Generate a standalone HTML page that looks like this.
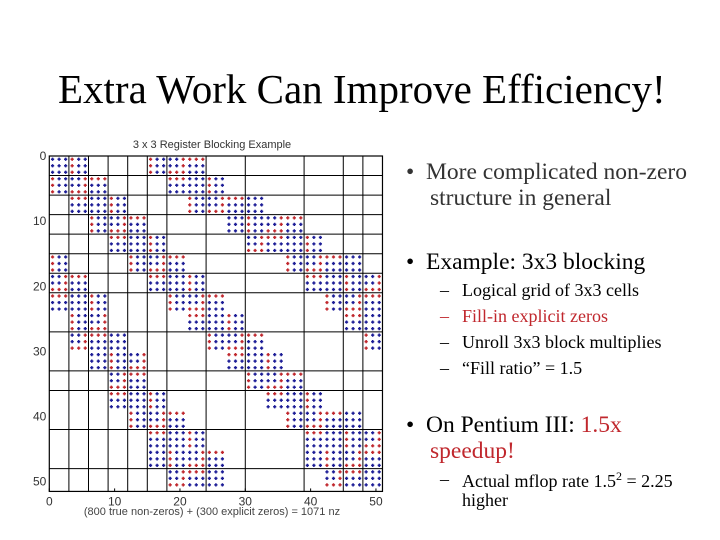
<!DOCTYPE html>
<html><head><meta charset="utf-8"><style>
body{margin:0;background:#fff;}
#wrap{position:relative;width:720px;height:540px;overflow:hidden;font-family:"Liberation Serif",serif;}
.t{position:absolute;white-space:nowrap;color:#000;}
.red{color:#c0272d;}
.d{position:absolute;left:-22px;}
</style></head><body>
<div id="wrap">
<div class="t" style="left:58px;top:65px;font-size:41px;">Extra Work Can Improve Efficiency!</div>
<svg id="chart" width="720" height="540" style="position:absolute;left:0;top:0"></svg>
<div class="t" style="left:406px;top:159px;font-size:23.5px;color:#333">•&nbsp; More complicated non-zero</div>
<div class="t" style="left:430px;top:185px;font-size:23.5px;color:#333">structure in general</div>
<div class="t" style="left:406px;top:249px;font-size:23.5px;">•&nbsp; Example: 3x3 blocking</div>
<div class="t" style="left:462px;top:280px;font-size:18px;"><span class="d">–</span>Logical grid of 3x3 cells</div>
<div class="t red" style="left:462px;top:306px;font-size:18px;"><span class="d">–</span>Fill-in explicit zeros</div>
<div class="t" style="left:462px;top:332px;font-size:18px;"><span class="d">–</span>Unroll 3x3 block multiplies</div>
<div class="t" style="left:462px;top:358px;font-size:18px;"><span class="d">–</span>“Fill ratio” = 1.5</div>
<div class="t" style="left:406px;top:412px;font-size:23.5px;">•&nbsp; On Pentium III: <span class="red">1.5x</span></div>
<div class="t red" style="left:430px;top:438px;font-size:23.5px;">speedup!</div>
<div class="t" style="left:462px;top:469px;font-size:18px;"><span class="d">–</span>Actual mflop rate 1.5<sup style="font-size:12px">2</sup> = 2.25</div>
<div class="t" style="left:462px;top:490px;font-size:18px;">higher</div>
</div>
<script>
// block rows: column-block indices of stored 3x3 blocks
const blockCols = [
 [0,1,5,6,7],[0,1,2,6,7,8],[1,2,3,7,8,9,10],[2,3,4,9,10,11,12],[3,4,5,10,11,12,13],
 [0,4,5,6,12,13,14,15],[0,1,5,6,7,13,14,15,16],[0,1,2,6,7,8,14,15,16],[1,2,7,8,9,15,16],
 [1,2,3,8,9,10,16],[2,3,4,9,10,11],[3,4,10,11,12],[3,4,5,11,12,13],[4,5,6,12,13,14,15],
 [5,6,7,13,14,15,16],[5,6,7,8,13,14,15,16],[6,7,8,14,15,16]
];
// fill masks (b = true nonzero, r = explicit zero), chosen by (row+col)%4
const masks = ["bbbbbbbbb","rbbrbbrbb","bbrbbrrrr","rrrbbbbbb"];
const colGrid = [3,6,9,12,15,18,24,30,39,45,48];
const rowGrid = [3,6,9,12,15,18,21,27,33,36,42,48];
const ticks = [0,10,20,30,40,50];
const X0=49.3, SX=6.533, Y0=156, SY=6.513, XMAX=51, YMAX=51.5;
const xs=u=>X0+u*SX, ys=v=>Y0+v*SY;
const svg=document.getElementById('chart');
const NS="http://www.w3.org/2000/svg";
function mk(tag,attrs){const e=document.createElementNS(NS,tag);for(const k in attrs)e.setAttribute(k,attrs[k]);svg.appendChild(e);return e;}
const gl=(x1,y1,x2,y2,w)=>mk('line',{x1,y1,x2,y2,stroke:'#000','stroke-width':w});
colGrid.forEach(c=>{const l=gl(xs(c),ys(0),xs(c),ys(YMAX),1);

});
rowGrid.forEach(r=>{const l=gl(xs(0),ys(r),xs(XMAX),ys(r),1);

});
const box=mk('rect',{x:xs(0),y:ys(0),width:xs(XMAX)-xs(0),height:ys(YMAX)-ys(0),fill:'none',stroke:'#000','stroke-width':1.2});


blockCols.forEach((cols,rb)=>{cols.forEach(cb=>{
 const m=masks[(rb+cb)%4];
 for(let i=0;i<3;i++)for(let j=0;j<3;j++){
  const col=m[i*3+j]==='b'?'#1c1c96':'#c0272d';
  const cx=xs(cb*3+j+0.5), cy=ys(rb*3+i+0.5);
  const g=mk('path',{d:`M${cx-1.6},${cy}H${cx+1.6}M${cx},${cy-1.6}V${cy+1.6}`,stroke:col,'stroke-width':1.5});
  
  
 }});});
ticks.forEach(t=>{
 const a=mk('line',{x1:xs(t),y1:ys(YMAX),x2:xs(t),y2:ys(YMAX)-3,stroke:'#000'});
 
 
 const tx=mk('text',{x:xs(t),y:ys(YMAX)+14,'font-size':12,'text-anchor':'middle','font-family':'Liberation Sans, sans-serif',fill:'#333'});
 tx.textContent=t;
 
 
 const ty=mk('text',{x:xs(0)-3,y:ys(t)+4,'font-size':12,'text-anchor':'end','font-family':'Liberation Sans, sans-serif',fill:'#333'});
 ty.textContent=t;
 
 
});
const tt=mk('text',{x:212,y:148,'font-size':11,'text-anchor':'middle','font-family':'Liberation Sans, sans-serif',fill:'#333'});
tt.textContent='3 x 3 Register Blocking Example';


const xl=mk('text',{x:212,y:515,'font-size':11,'text-anchor':'middle','font-family':'Liberation Sans, sans-serif',fill:'#444'});
xl.textContent='(800 true non-zeros) + (300 explicit zeros) = 1071 nz';


</script>
</body></html>
